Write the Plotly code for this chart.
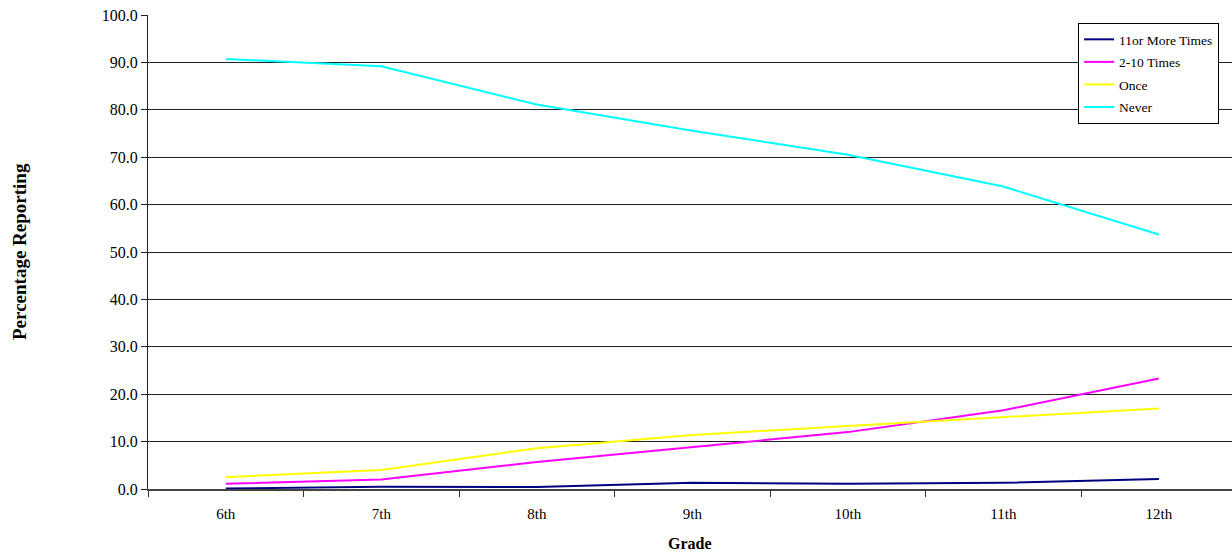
import plotly.graph_objects as go

grades = ["6th", "7th", "8th", "9th", "10th", "11th", "12th"]
eleven_plus = [0.1, 0.5, 0.4, 1.3, 1.1, 1.3, 2.1]
two_to_ten = [1.1, 2.0, 5.7, 8.9, 12.0, 16.6, 23.3]
once = [2.5, 4.0, 8.6, 11.4, 13.3, 15.2, 17.0]
never = [90.7, 89.2, 81.1, 75.6, 70.5, 63.8, 53.7]

series = [
    ("11or More Times", eleven_plus, "#000080"),
    ("2-10 Times", two_to_ten, "#FF00FF"),
    ("Once", once, "#FFFF00"),
    ("Never", never, "#00FFFF"),
]

FONT = "Liberation Serif, Times New Roman, serif"

fig = go.Figure()
for name, vals, color in series:
    fig.add_trace(go.Scatter(
        x=grades, y=vals, name=name, mode="lines",
        legendgroup=name,
        line=dict(color=color, width=2),
    ))

fig.update_layout(
    width=1232, height=556,
    margin=dict(l=148, r=0, t=15, b=67),
    paper_bgcolor="white", plot_bgcolor="white",
    font=dict(family=FONT, size=15, color="black"),
    showlegend=True,
    legend=dict(
        x=0.858, y=0.983, xanchor="left", yanchor="top",
        bgcolor="white", bordercolor="black", borderwidth=1,
        font=dict(family=FONT, size=13.5, color="black"),
        tracegroupgap=2,
    ),
    xaxis=dict(
        type="category", range=[-0.5, 6.47],
        showgrid=False, showline=True, linecolor="#444", linewidth=2,
        ticks="outside", tickson="boundaries", ticklen=6, tickcolor="#333",
        tickfont=dict(family=FONT, size=15),
        ticklabelstandoff=10,
    ),
    yaxis=dict(
        range=[0, 100], dtick=10, tickformat=".1f",
        showgrid=True, gridcolor="#222", gridwidth=1,
        showline=True, linecolor="#222", linewidth=1,
        ticks="outside", ticklen=6, tickcolor="#222",
        tickfont=dict(family=FONT, size=16),
        zeroline=False,
    ),
    annotations=[
        dict(text="<b>Percentage Reporting</b>", x=0, y=0.5, xref="paper", yref="paper",
             xanchor="center", yanchor="middle", xshift=-129, textangle=-90,
             showarrow=False, font=dict(family=FONT, size=19)),
        dict(text="<b>Grade</b>", x=0.5, y=0, xref="paper", yref="paper",
             xanchor="center", yanchor="middle", yshift=-54,
             showarrow=False, font=dict(family=FONT, size=16)),
    ],
)

fig.write_html("out.html")
